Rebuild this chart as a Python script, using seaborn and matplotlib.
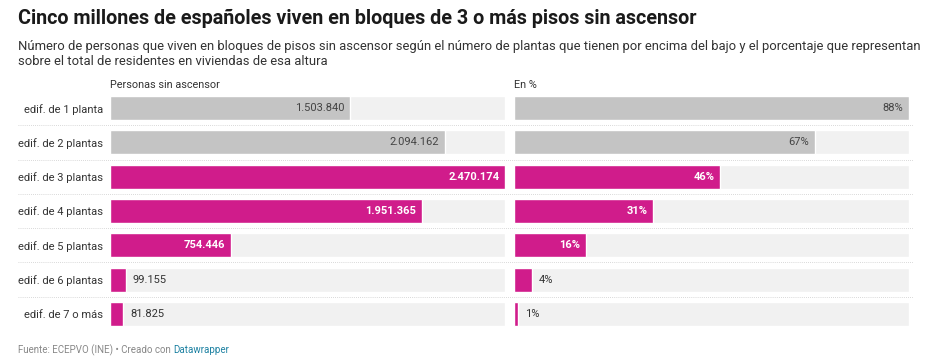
import numpy as np
import pandas as pd
import matplotlib.pyplot as plt
import seaborn as sns

# datos
categorias = ["edif. de 1 planta", "edif. de 2 plantas", "edif. de 3 plantas",
              "edif. de 4 plantas", "edif. de 5 plantas", "edif. de 6 plantas",
              "edif. de 7 o más"]
personas = [1503840, 2094162, 2470174, 1951365, 754446, 99155, 81825]
porcentaje = [88, 67, 46, 31, 16, 4, 1]
destacado = [False, False, True, True, True, True, True]

GRIS = "#c4c4c4"
MAGENTA = "#d01c8b"
FONDO = "#f1f1f1"
TEXTO = "#333333"

sns.set_theme(style="white")
plt.rcParams['font.family'] = ['Roboto', 'DejaVu Sans']

df = pd.DataFrame({"cat": categorias, "personas": personas,
                   "pct": porcentaje, "dest": destacado})
colores = {c: (MAGENTA if d else GRIS) for c, d in zip(categorias, destacado)}

W, H = 927, 362
fig = plt.figure(figsize=(W / 100, H / 100), dpi=100)


def px_axes(x0, y0, x1, y1):
    return fig.add_axes([x0 / W, 1 - y1 / H, (x1 - x0) / W, (y1 - y0) / H])


# separadores punteados
fondo = px_axes(18, 91, 913, 331)
fondo.set_ylim(len(categorias) - 0.5, -0.5)
for k in range(len(categorias) - 1):
    fondo.axhline(k + 0.5, color="#cccccc", lw=0.6, ls=(0, (1, 1.5)))
fondo.axis("off")


def panel(x0, x1, col, fmt, show_labels):
    ax = px_axes(x0, 91, x1, 331)
    ax.patch.set_alpha(0)
    vmax = df[col].max()
    df["_max"] = vmax
    sns.barplot(data=df, x="_max", y="cat", color=FONDO, width=0.7,
                ax=ax, saturation=1)
    sns.barplot(data=df, x=col, y="cat", hue="cat", palette=colores,
                width=0.7, ax=ax, saturation=1, legend=False)
    ax.set_xlim(0, vmax)
    ax.set_ylim(len(categorias) - 0.5, -0.5)
    ax.set_xlabel("")
    ax.set_ylabel("")
    ax.set_xticks([])
    sns.despine(ax=ax, left=True, bottom=True)
    if show_labels:
        ax.tick_params(axis="y", length=0, pad=5, labelsize=8,
                       labelcolor=TEXTO)
    else:
        ax.set_yticks([])
    for i, (v, d) in enumerate(zip(df[col], df["dest"])):
        txt = fmt(v)
        if v < 0.1 * vmax:
            ax.annotate(txt, (v, i), xytext=(5, 0), textcoords="offset points",
                        ha="left", va="center", fontsize=8, color=TEXTO)
        elif d:
            ax.annotate(txt, (v, i), xytext=(-4, 0), textcoords="offset points",
                        ha="right", va="center", fontsize=8, color="white",
                        fontweight="bold")
        else:
            ax.annotate(txt, (v, i), xytext=(-4, 0), textcoords="offset points",
                        ha="right", va="center", fontsize=8, color="#444444")
    return ax


panel(110, 505, "personas", lambda v: f"{v:,}".replace(",", "."), True)
panel(514, 909, "pct", lambda v: f"{v}%", False)

# cabeceras de columna
fig.text(110 / W, 1 - 85 / H, "Personas sin ascensor", fontsize=7.8,
         color=TEXTO, va="center", ha="left")
fig.text(514 / W, 1 - 85 / H, "En %", fontsize=7.8, color=TEXTO,
         va="center", ha="left")

# título y subtítulo
fig.text(18 / W, 1 - 18 / H,
         "Cinco millones de españoles viven en bloques de 3 o más pisos sin ascensor",
         fontsize=14.2, fontweight="bold", color="#1a1a1a", va="center")
fig.text(18 / W, 1 - 54 / H,
         "Número de personas que viven en bloques de pisos sin ascensor según el número "
         "de plantas que tienen por encima del bajo y el porcentaje que representan\n"
         "sobre el total de residentes en viviendas de esa altura",
         fontsize=9.35, color=TEXTO, va="center", linespacing=1.15)

# pie
fuente = fig.text(18 / W, 1 - 350 / H, "Fuente: ECEPVO (INE) • Creado con",
                  fontsize=7, color="#888888", va="center")
fig.canvas.draw()
bb = fuente.get_window_extent()
fig.text((bb.x1 + 3) / W, 1 - 350 / H, "Datawrapper", fontsize=7,
         color="#1d81a2", va="center")

fig.savefig("out.png", dpi=100)
